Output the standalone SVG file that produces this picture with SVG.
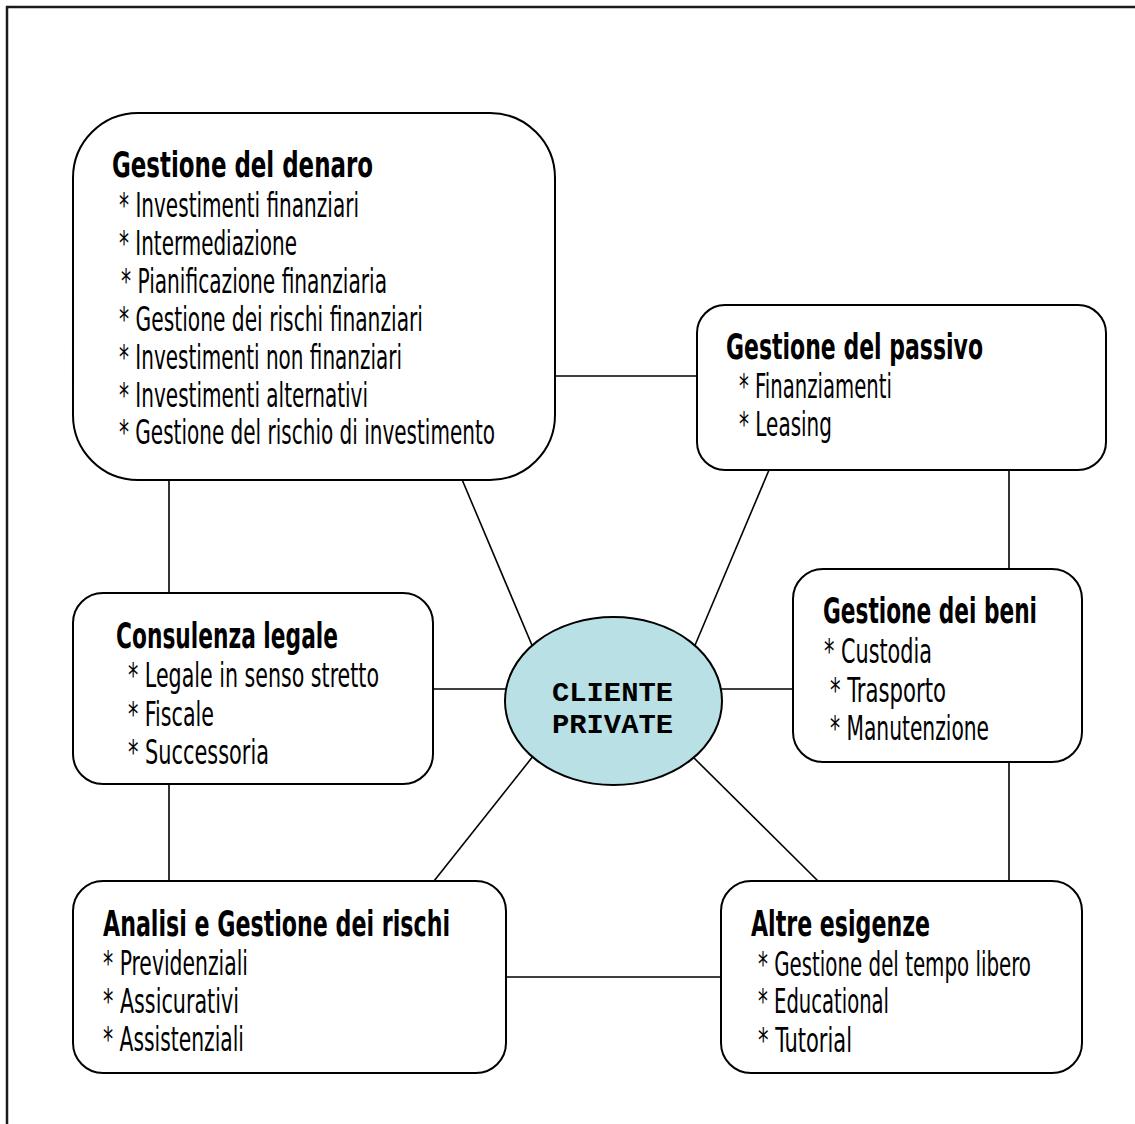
<svg xmlns="http://www.w3.org/2000/svg" width="1135" height="1124" viewBox="0 0 1135 1124">
  <style>
    .frame { stroke: #1a1a1a; stroke-width: 2.5; fill: none; }
    .box { fill: #ffffff; stroke: #000000; stroke-width: 2; }
    .link { stroke: #000000; stroke-width: 1.6; fill: none; }
    .hub { fill: #b9e0e4; stroke: #000000; stroke-width: 2; }
    .title { font-family: "DejaVu Sans Condensed", "DejaVu Sans", sans-serif; font-stretch: condensed; font-weight: bold; font-size: 36px; fill: #000; }
    .item { font-family: "DejaVu Sans Condensed", "DejaVu Sans", sans-serif; font-stretch: condensed; font-weight: normal; font-size: 34px; fill: #000; }
    .hubtext { font-family: "Liberation Mono", "Courier New", monospace; font-weight: bold; font-size: 27px; fill: #000; }
  </style>

  <!-- page frame: top and left rules only -->
  <g id="frame">
    <line class="frame" x1="6" y1="7" x2="1135" y2="7"/>
    <line class="frame" x1="7" y1="6" x2="7" y2="1124"/>
  </g>

  <!-- connectors (drawn first so boxes cover their ends) -->
  <g id="connectors">
    <line class="link" x1="555" y1="376" x2="697" y2="376"/>
    <line class="link" x1="169" y1="480" x2="169" y2="593"/>
    <line class="link" x1="169" y1="784" x2="169" y2="881"/>
    <line class="link" x1="1009" y1="470" x2="1009" y2="569"/>
    <line class="link" x1="1009" y1="762" x2="1009" y2="881"/>
    <line class="link" x1="506" y1="977" x2="721" y2="977"/>
    <line class="link" x1="433" y1="689" x2="510" y2="689"/>
    <line class="link" x1="718" y1="689" x2="793" y2="689"/>
    <line class="link" x1="458" y1="470" x2="534" y2="650"/>
    <line class="link" x1="769" y1="470" x2="693" y2="650"/>
    <line class="link" x1="534" y1="755" x2="434" y2="881"/>
    <line class="link" x1="692" y1="756" x2="818" y2="881"/>
  </g>

  <g id="gestione-denaro">
    <rect class="box" x="73" y="113" width="482" height="367" rx="65" ry="65"/>
    <text class="title" x="112" y="177" textLength="261" lengthAdjust="spacingAndGlyphs">Gestione del denaro</text>
    <text class="item" x="119" y="217" textLength="240" lengthAdjust="spacingAndGlyphs">* Investimenti finanziari</text>
    <text class="item" x="119" y="255" textLength="178" lengthAdjust="spacingAndGlyphs">* Intermediazione</text>
    <text class="item" x="121" y="293" textLength="266" lengthAdjust="spacingAndGlyphs">* Pianificazione finanziaria</text>
    <text class="item" x="119" y="331" textLength="304" lengthAdjust="spacingAndGlyphs">* Gestione dei rischi finanziari</text>
    <text class="item" x="119" y="369" textLength="283" lengthAdjust="spacingAndGlyphs">* Investimenti non finanziari</text>
    <text class="item" x="119" y="407" textLength="249" lengthAdjust="spacingAndGlyphs">* Investimenti alternativi</text>
    <text class="item" x="119" y="444" textLength="376" lengthAdjust="spacingAndGlyphs">* Gestione del rischio di investimento</text>
  </g>

  <g id="gestione-passivo">
    <rect class="box" x="697" y="305" width="409" height="165" rx="28" ry="28"/>
    <text class="title" x="726" y="359" textLength="257" lengthAdjust="spacingAndGlyphs">Gestione del passivo</text>
    <text class="item" x="739" y="398" textLength="153" lengthAdjust="spacingAndGlyphs">* Finanziamenti</text>
    <text class="item" x="739" y="436" textLength="93" lengthAdjust="spacingAndGlyphs">* Leasing</text>
  </g>

  <g id="consulenza-legale">
    <rect class="box" x="73" y="593" width="360" height="191" rx="30" ry="30"/>
    <text class="title" x="116" y="648" textLength="222" lengthAdjust="spacingAndGlyphs">Consulenza legale</text>
    <text class="item" x="128" y="687" textLength="251" lengthAdjust="spacingAndGlyphs">* Legale in senso stretto</text>
    <text class="item" x="128" y="726" textLength="86" lengthAdjust="spacingAndGlyphs">* Fiscale</text>
    <text class="item" x="128" y="764" textLength="141" lengthAdjust="spacingAndGlyphs">* Successoria</text>
  </g>

  <g id="gestione-beni">
    <rect class="box" x="793" y="569" width="289" height="193" rx="30" ry="30"/>
    <text class="title" x="823" y="623" textLength="214" lengthAdjust="spacingAndGlyphs">Gestione dei beni</text>
    <text class="item" x="824" y="663" textLength="108" lengthAdjust="spacingAndGlyphs">* Custodia</text>
    <text class="item" x="830" y="702" textLength="116" lengthAdjust="spacingAndGlyphs">* Trasporto</text>
    <text class="item" x="830" y="740" textLength="159" lengthAdjust="spacingAndGlyphs">*  Manutenzione</text>
  </g>

  <g id="analisi-rischi">
    <rect class="box" x="73" y="881" width="433" height="192" rx="30" ry="30"/>
    <text class="title" x="103" y="936" textLength="347" lengthAdjust="spacingAndGlyphs">Analisi e Gestione dei rischi</text>
    <text class="item" x="103" y="975" textLength="145" lengthAdjust="spacingAndGlyphs">* Previdenziali</text>
    <text class="item" x="103" y="1013" textLength="136" lengthAdjust="spacingAndGlyphs">* Assicurativi</text>
    <text class="item" x="103" y="1051" textLength="141" lengthAdjust="spacingAndGlyphs">* Assistenziali</text>
  </g>

  <g id="altre-esigenze">
    <rect class="box" x="721" y="881" width="361" height="192" rx="30" ry="30"/>
    <text class="title" x="751" y="936" textLength="179" lengthAdjust="spacingAndGlyphs">Altre esigenze</text>
    <text class="item" x="758" y="976" textLength="273" lengthAdjust="spacingAndGlyphs">* Gestione del tempo libero</text>
    <text class="item" x="758" y="1013" textLength="131" lengthAdjust="spacingAndGlyphs">* Educational</text>
    <text class="item" x="758" y="1052" textLength="94" lengthAdjust="spacingAndGlyphs">* Tutorial</text>
  </g>

  <g id="cliente-private">
    <ellipse class="hub" cx="613.5" cy="701" rx="108.5" ry="84"/>
    <text class="hubtext" x="552" y="701" textLength="121" lengthAdjust="spacingAndGlyphs">CLIENTE</text>
    <text class="hubtext" x="552" y="733" textLength="121" lengthAdjust="spacingAndGlyphs">PRIVATE</text>
  </g>
</svg>
